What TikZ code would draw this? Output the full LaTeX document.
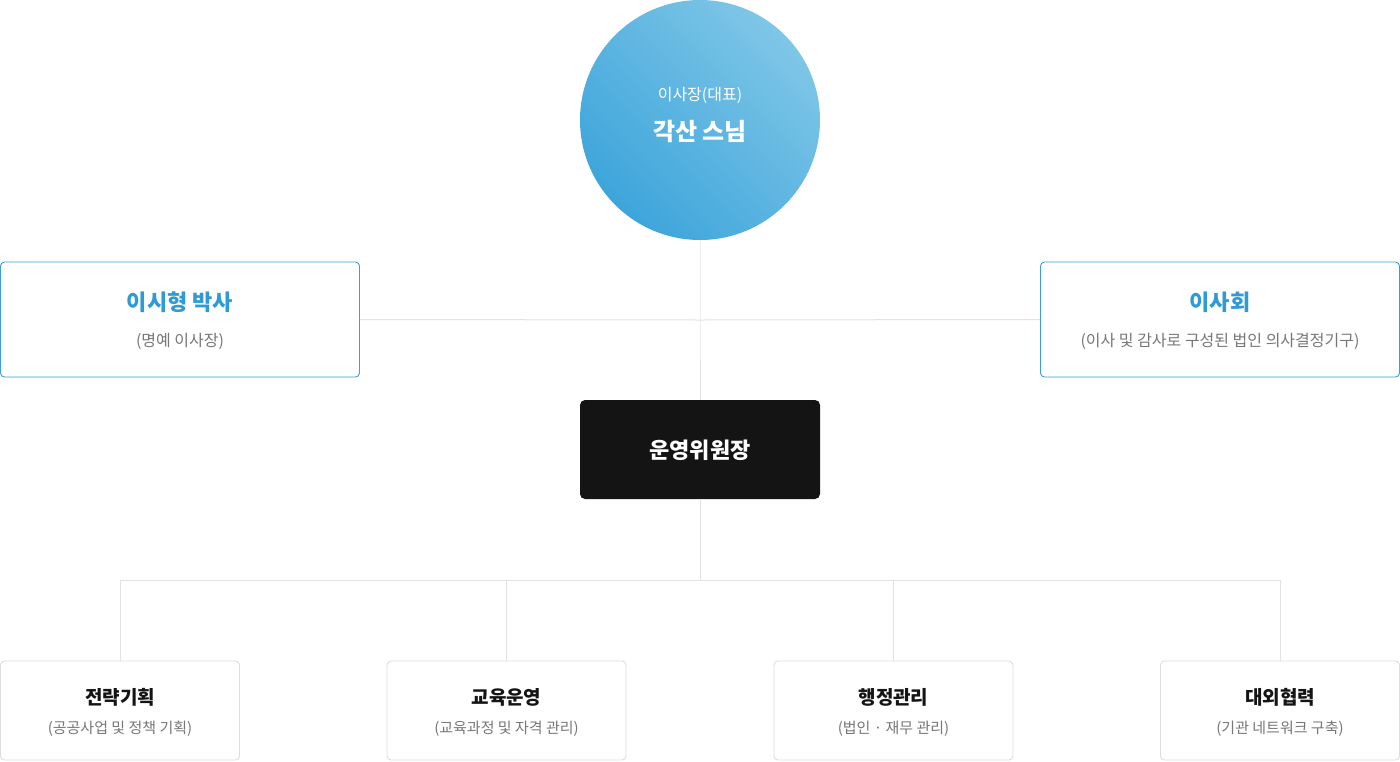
\documentclass[tikz,border=0pt]{standalone}
\usepackage{fontspec}
\setmainfont{Noto Sans CJK KR}
\usetikzlibrary{positioning}
\definecolor{lineg}{HTML}{E2E2E2}
\definecolor{bblue}{HTML}{3A9FD8}
\definecolor{tblue}{HTML}{2E9BD6}
\definecolor{subg}{HTML}{777777}
\definecolor{boxg}{HTML}{DDDDDD}
\definecolor{dark}{HTML}{141414}
\definecolor{gA}{HTML}{3DA5DB}
\definecolor{gB}{HTML}{7FC6E7}
\begin{document}
\begin{tikzpicture}[x=1pt,y=-1pt,
  conn/.style={draw=lineg,line width=1pt},
  bluebox/.style={draw=bblue,line width=0.9pt,rounded corners=4pt,fill=white,minimum width=359pt,minimum height=115pt,inner sep=0},
  greybox/.style={draw=boxg,line width=0.9pt,rounded corners=4pt,fill=white,minimum width=239pt,minimum height=99pt,inner sep=0},
  ttl/.style={font=\fontsize{19}{22}\selectfont\bfseries,text=dark},
  sub/.style={font=\fontsize{15}{18}\selectfont,text=subg}]
\useasboundingbox (0,0) rectangle (1400,761);
% connectors
\coordinate (jc) at (700,320);
\coordinate (jb) at (700,580);
\node[bluebox] (L) at (180,319.5) {};
\node[bluebox] (R) at (1220,319.5) {};
\node[fill=dark,rounded corners=5pt,minimum width=240pt,minimum height=99pt,inner sep=0] (M) at (700,449.5) {};
\foreach \n/\x in {b1/120,b2/506.5,b3/893.5,b4/1280}{
  \node[greybox] (\n) at (\x,710.5) {};
  \coordinate (\n t) at (\x,580);
}
\shade[left color=gA,right color=gB,shading angle=135] (700,120) circle (120);
\node[circle,minimum size=240pt,inner sep=0] (C) at (700,120) {};
\draw[conn] (C.south) -- (jc) -- (M.north);
\draw[conn] (L.east) -- (jc) -- (R.west);
\draw[conn] (M.south) -- (jb);
\draw[conn] (b1t) -- (b4t);
\foreach \n in {b1,b2,b3,b4}{\draw[conn] (\n t) -- (\n.north);}
% texts
\node[text=white,font=\fontsize{16}{19}\selectfont] (c1) at (700,95) {이사장(대표)};
\node[text=white,font=\fontsize{24}{28}\selectfont\bfseries] (c2) at (700,132) {각산 스님};
\node[text=tblue,font=\fontsize{22}{26}\selectfont\bfseries] (l1) at (180,302) {이시형 박사};
\node[sub,font=\fontsize{16}{19}\selectfont] (l2) at (180,341) {(명예 이사장)};
\node[text=tblue,font=\fontsize{22}{26}\selectfont\bfseries] (r1) at (1220,302) {이사회};
\node[sub,font=\fontsize{16}{19}\selectfont] (r2) at (1220,341) {(이사 및 감사로 구성된 법인 의사결정기구)};
\node[text=white,font=\fontsize{22}{26}\selectfont\bfseries] (m1) at (700,450) {운영위원장};
\node[ttl] (t1) at (120,697) {전략기획};
\node[sub] (s1) at (120,729) {(공공사업 및 정책 기획)};
\node[ttl] (t2) at (506.5,697) {교육운영};
\node[sub] (s2) at (506.5,729) {(교육과정 및 자격 관리)};
\node[ttl] (t3) at (893.5,697) {행정관리};
\node[sub] (s3) at (893.5,729) {(법인 · 재무 관리)};
\node[ttl] (t4) at (1280,697) {대외협력};
\node[sub] (s4) at (1280,729) {(기관 네트워크 구축)};
\end{tikzpicture}
\end{document}
